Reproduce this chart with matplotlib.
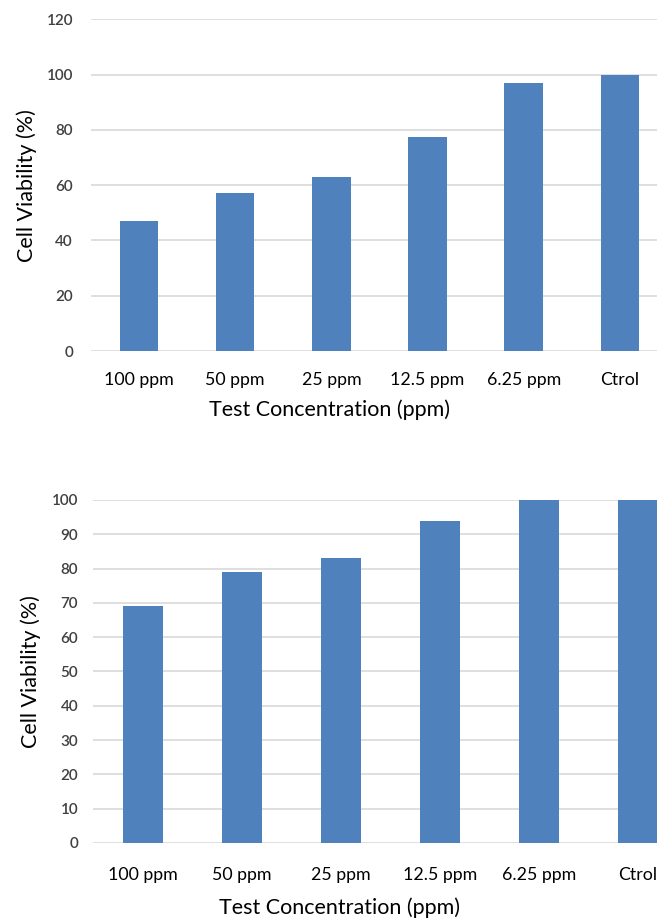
import matplotlib.pyplot as plt
import numpy as np

plt.rcParams['font.family'] = ['Lato', 'DejaVu Sans']

# Concentrations tested and measured viability for the two assays
concentrations = ["100 ppm", "50 ppm", "25 ppm", "12.5 ppm", "6.25 ppm", "Ctrol"]
viability_top = [47, 57, 63, 77.5, 97, 100]
viability_bottom = [69, 79, 83, 94, 100, 100]

bar_color = "#4F81BD"
grid_color = "#D9D9D9"
text_color = "#404040"

fig = plt.figure(figsize=(6.57, 9.19), dpi=100)


def draw_panel(ax, values, ymax, ystep, tick_pad, ytick_pad, xlabel_xy, ylabel_xy):
    x = np.arange(len(concentrations))
    ax.bar(x, values, width=0.4, color=bar_color, zorder=3)
    ax.set_xlim(-0.5, len(concentrations) - 0.5)
    ax.set_ylim(0, ymax)
    ax.set_yticks(np.arange(0, ymax + 1, ystep))
    ax.set_xticks(x)
    ax.set_xticklabels(concentrations, fontsize=12.8, color="black")
    ax.tick_params(axis="x", length=0, pad=tick_pad)
    ax.tick_params(axis="y", length=0, pad=ytick_pad, labelsize=11, labelcolor=text_color)
    for lbl in ax.get_yticklabels():
        lbl.set_fontweight("semibold")
    ax.grid(axis="y", color=grid_color, linewidth=1.2, zorder=0)
    for s in ax.spines.values():
        s.set_visible(False)
    ax.set_ylabel("Cell Viability (%)", fontsize=15.5, color="black")
    ax.set_xlabel("Test Concentration (ppm)", fontsize=15.5, color="black")
    ax.xaxis.set_label_coords(*xlabel_xy)
    ax.yaxis.set_label_coords(*ylabel_xy)


ax1 = fig.add_axes([0.1385, 0.618, 0.878, 0.361])
draw_panel(ax1, viability_top, 120, 20, 15, 13, (0.414, -0.145), (-0.093, 0.5))

ax2 = fig.add_axes([0.1423, 0.0827, 0.904, 0.3733])
draw_panel(ax2, viability_bottom, 100, 10, 17, 11, (0.415, -0.16), (-0.088, 0.5))

fig.savefig("out.png", dpi=100)
